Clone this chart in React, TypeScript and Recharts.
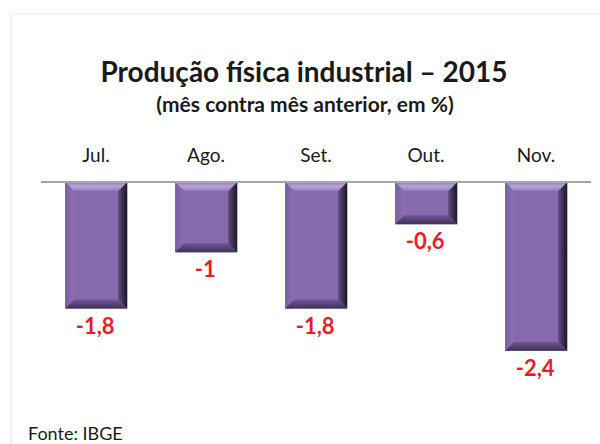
import { BarChart, Bar, XAxis, YAxis, LabelList } from "recharts";

const months = ["Jul.", "Ago.", "Set.", "Out.", "Nov."];
const variation = [-1.8, -1, -1.8, -0.6, -2.4];
const valueLabels = ["-1,8", "-1", "-1,8", "-0,6", "-2,4"];

const data = months.map((m, i) => ({ mes: m, valor: variation[i], rotulo: valueLabels[i] }));

const font = "Lato, 'Open Sans', sans-serif";

function BevelBar(props: any) {
  const { x, y, width, height, index } = props;
  const top = Math.min(y, y + height);
  const h = Math.abs(height);
  const w = width;
  const b = Math.min(9, h / 2, w / 2);
  const id = "bv" + index;
  const L = x;
  const R = x + w;
  const B = top + h;
  return (
    <g>
      <defs>
        <linearGradient id={id + "r"} x1="0" y1="0" x2="1" y2="0">
          <stop offset="0" stopColor="#5f4b7e" />
          <stop offset="1" stopColor="#1c1526" />
        </linearGradient>
        <linearGradient id={id + "t"} x1="0" y1="0" x2="0" y2="1">
          <stop offset="0" stopColor="#9a80c0" />
          <stop offset="0.5" stopColor="#b7a2d6" />
          <stop offset="1" stopColor="#9479bb" />
        </linearGradient>
        <linearGradient id={id + "b"} x1="0" y1="0" x2="0" y2="1">
          <stop offset="0" stopColor="#6f5795" />
          <stop offset="1" stopColor="#3e3055" />
        </linearGradient>
        <linearGradient id={id + "l"} x1="0" y1="0" x2="1" y2="0">
          <stop offset="0" stopColor="#7a5fa2" />
          <stop offset="1" stopColor="#8c6fb3" />
        </linearGradient>
      </defs>
      <rect x={L} y={top} width={w} height={h} fill="#8769ad" />
      <polygon points={`${L},${top} ${L + b},${top + b} ${L + b},${B - b} ${L},${B}`} fill={`url(#${id}l)`} />
      <polygon points={`${R},${top} ${R},${B} ${R - b},${B - b} ${R - b},${top + b}`} fill={`url(#${id}r)`} />
      <polygon points={`${L},${top} ${R},${top} ${R - b},${top + b} ${L + b},${top + b}`} fill={`url(#${id}t)`} />
      <polygon points={`${L},${B} ${R},${B} ${R - b},${B - b} ${L + b},${B - b}`} fill={`url(#${id}b)`} />
    </g>
  );
}

function ValueLabel(props: any) {
  const { x, y, width, height, value } = props;
  const bottom = Math.max(y, y + height);
  return (
    <text
      x={x + width / 2 - 1}
      y={bottom + 25}
      textAnchor="middle"
      fill="#ee1c25"
      fontFamily={font}
      fontWeight="bold"
      fontSize={22}
    >
      {value}
    </text>
  );
}

export default function App() {
  return (
    <div style={{ position: "absolute", left: 0, top: 0, width: 600, height: 444, background: "#fff", overflow: "hidden" }}>
      <div
        style={{
          position: "absolute",
          left: 12,
          top: 15,
          width: 600,
          height: 440,
          boxShadow: "-1px -1px 3px rgba(0,0,0,0.10)",
          background: "#fff"
        }}
      />
      <div
        style={{
          position: "absolute",
          left: 0,
          width: 608,
          top: 57,
          textAlign: "center",
          fontFamily: font,
          fontWeight: "bold",
          fontSize: 28,
          lineHeight: "28px",
          color: "#1a1a1a"
        }}
      >
        Produção física industrial – 2015
      </div>
      <div
        style={{
          position: "absolute",
          left: 0,
          width: 610,
          top: 93,
          textAlign: "center",
          fontFamily: font,
          fontWeight: "bold",
          fontSize: 21,
          lineHeight: "21px",
          color: "#1a1a1a"
        }}
      >
        (mês contra mês anterior, em %)
      </div>
      <div style={{ position: "absolute", left: 0, top: 0 }}>
        <BarChart
          width={600}
          height={444}
          data={data}
          margin={{ top: 152, right: 9, left: 41, bottom: 51 }}
          barCategoryGap="22%"
        >
          <XAxis
            dataKey="mes"
            orientation="top"
            height={30}
            tickLine={false}
            tickSize={0}
            tickMargin={20}
            axisLine={{ stroke: "#a6a6a6", strokeWidth: 2 }}
            tick={{ fill: "#1a1a1a", fontSize: 19, fontFamily: font }}
          />
          <YAxis hide domain={[-3, 0]} />
          <Bar dataKey="valor" shape={<BevelBar />} isAnimationActive={false}>
            <LabelList dataKey="rotulo" content={<ValueLabel />} />
          </Bar>
        </BarChart>
      </div>
      <div
        style={{
          position: "absolute",
          left: 28,
          top: 424,
          fontFamily: font,
          fontSize: 18,
          lineHeight: "18px",
          color: "#1a1a1a"
        }}
      >
        Fonte: IBGE
      </div>
    </div>
  );
}
